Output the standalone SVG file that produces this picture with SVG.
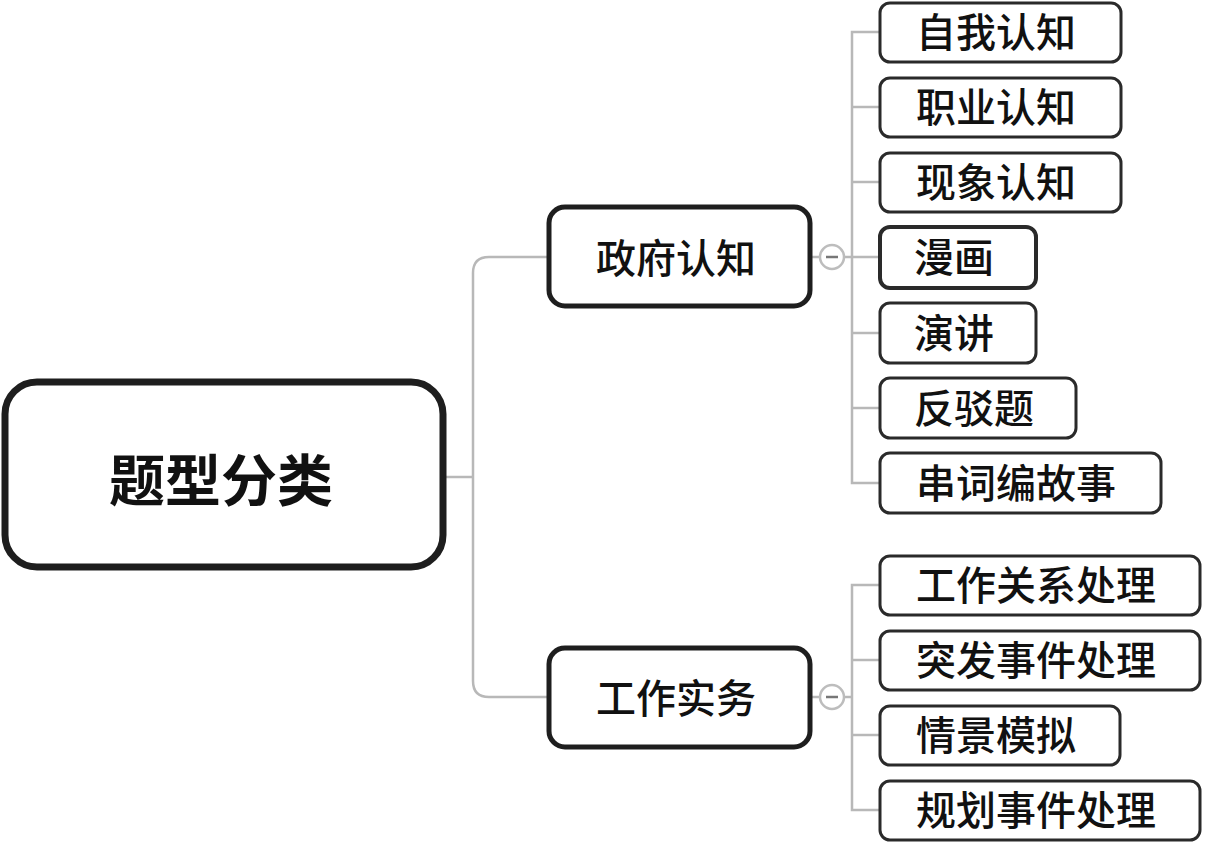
<svg xmlns="http://www.w3.org/2000/svg" width="1225" height="850" viewBox="0 0 1225 850">
<style>
text{font-family:"Noto Sans CJK SC","Noto Sans",sans-serif;fill:#111;dominant-baseline:central}
.root rect{fill:#fff;stroke:#1e1e1e;stroke-width:7}
.root text{font-size:56px;font-weight:bold;text-anchor:middle}
.mid rect{fill:#fff;stroke:#1e1e1e;stroke-width:5}
.mid text{font-size:40px;font-weight:500;text-anchor:middle}
.leaf rect{fill:#fff;stroke:#2a2a2a;stroke-width:3}
.leaf text{font-size:40px;font-weight:500;text-anchor:middle}
.conn path,.conn line{fill:none;stroke:#b8b8b8;stroke-width:2.5}
.tog circle{fill:#fff;stroke:#bdbdbd;stroke-width:2.5}
.tog line{stroke:#777;stroke-width:2.5}
</style>
<rect width="1225" height="850" fill="#fff"/>
<g class="conn" id="connectors">
<path d="M445 477 H473"/>
<path d="M549 257 H489 Q473 257 473 273 V681 Q473 697 489 697 H549"/>
<line x1="810" y1="257" x2="820" y2="257"/>
<line x1="845" y1="257" x2="880" y2="257"/>
<path d="M880 32 H852 V483 H880"/>
<line x1="852" y1="107" x2="880" y2="107"/>
<line x1="852" y1="182" x2="880" y2="182"/>
<line x1="852" y1="333" x2="880" y2="333"/>
<line x1="852" y1="408" x2="880" y2="408"/>
<line x1="810" y1="697" x2="820" y2="697"/>
<line x1="845" y1="697" x2="852" y2="697"/>
<path d="M880 585 H852 V810 H880"/>
<line x1="852" y1="660" x2="880" y2="660"/>
<line x1="852" y1="735" x2="880" y2="735"/>
</g>
<g class="root" id="n-root"><rect x="5" y="382" width="438" height="185" rx="32"/><text x="221" y="476">题型分类</text></g>
<g class="mid" id="n-zfrz"><rect x="549" y="207" width="261" height="99" rx="16"/><text x="676" y="256">政府认知</text></g>
<g class="tog" id="t-zfrz"><circle cx="832" cy="257" r="12"/><line x1="826" y1="257" x2="838" y2="257"/></g>
<g class="mid" id="n-gzsw"><rect x="549" y="648" width="261" height="99" rx="16"/><text x="676" y="696">工作实务</text></g>
<g class="tog" id="t-gzsw"><circle cx="832" cy="697" r="12"/><line x1="826" y1="697" x2="838" y2="697"/></g>
<g class="leaf" id="n-1"><rect x="880" y="3" width="241" height="59" rx="10"/><text x="996" y="30">自我认知</text></g>
<g class="leaf" id="n-2"><rect x="880" y="78" width="241" height="59" rx="10"/><text x="996" y="105">职业认知</text></g>
<g class="leaf" id="n-3"><rect x="880" y="153" width="241" height="59" rx="10"/><text x="996" y="180">现象认知</text></g>
<g class="leaf" id="n-4"><rect x="880" y="227" width="156" height="61" rx="10" style="stroke-width:4"/><text x="954" y="255">漫画</text></g>
<g class="leaf" id="n-5"><rect x="880" y="303" width="156" height="60" rx="10"/><text x="954" y="331">演讲</text></g>
<g class="leaf" id="n-6"><rect x="880" y="378" width="196" height="60" rx="10"/><text x="974" y="406">反驳题</text></g>
<g class="leaf" id="n-7"><rect x="880" y="453" width="281" height="60" rx="10"/><text x="1016" y="481">串词编故事</text></g>
<g class="leaf" id="n-8"><rect x="880" y="556" width="320" height="59" rx="10"/><text x="1036" y="583">工作关系处理</text></g>
<g class="leaf" id="n-9"><rect x="880" y="631" width="320" height="59" rx="10"/><text x="1036" y="658">突发事件处理</text></g>
<g class="leaf" id="n-10"><rect x="880" y="706" width="240" height="59" rx="10"/><text x="996" y="733">情景模拟</text></g>
<g class="leaf" id="n-11"><rect x="880" y="781" width="320" height="59" rx="10"/><text x="1036" y="808">规划事件处理</text></g>
</svg>
